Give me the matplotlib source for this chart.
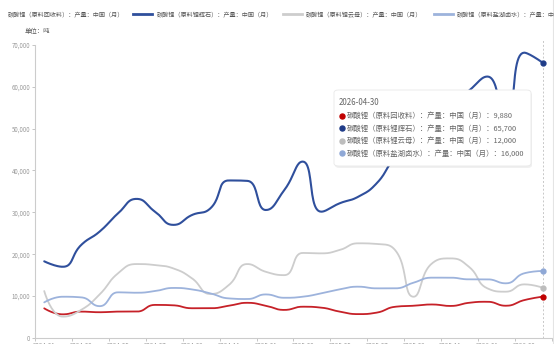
import numpy as np
import matplotlib
matplotlib.use("Agg")
import matplotlib.pyplot as plt
from matplotlib.patches import FancyBboxPatch
from matplotlib.lines import Line2D

plt.rcParams['font.family'] = ['Noto Sans CJK SC', 'DejaVu Sans']

# Monthly dates (month end)
dates = ["2024-01-31", "2024-02-29", "2024-03-31", "2024-04-30", "2024-05-31", "2024-06-30",
         "2024-07-31", "2024-08-31", "2024-09-30", "2024-10-31", "2024-11-30", "2024-12-31",
         "2025-01-31", "2025-02-28", "2025-03-31", "2025-04-30", "2025-05-31", "2025-06-30",
         "2025-07-31", "2025-08-31", "2025-09-30", "2025-10-31", "2025-11-30", "2025-12-31",
         "2026-01-31", "2026-02-28", "2026-03-31", "2026-04-30"]

names = ["碳酸锂（原料回收料）：产量：中国（月）",
         "碳酸锂（原料锂辉石）：产量：中国（月）",
         "碳酸锂（原料锂云母）：产量：中国（月）",
         "碳酸锂（原料盐湖卤水）：产量：中国（月）"]

recycled = [7080, 5650, 6300, 6150, 6300, 6300, 7900, 7800, 7100, 7100, 7700, 8400, 7700, 6700,
            7470, 7250, 6300, 5700, 6050, 7450, 7700, 8000, 7650, 8400, 8650, 7700, 9050, 9880]
spodumene = [18300, 17000, 22200, 25400, 29750, 33200, 30150, 27000, 29350, 30950, 37600, 37500,
             30550, 35300, 42100, 30150, 32150, 33700, 36900, 43000, 46500, 50500, 55000, 59000,
             62400, 52000, 68100, 65700]
lepidolite = [11200, 5100, 6700, 10400, 15450, 17650, 17400, 16600, 14250, 10500, 12650, 17650,
              15800, 15000, 20300, 20200, 21000, 22600, 22450, 21000, 9850, 17800, 19000, 17000,
              11850, 11050, 12800, 12000]
brine = [8500, 9850, 9700, 7600, 10900, 10800, 11200, 11950, 11600, 10650, 9450, 9300, 10400, 9600,
         9850, 10650, 11600, 12250, 11850, 11850, 13200, 14400, 14400, 14000, 14000, 13050, 15450,
         16000]

series = [recycled, spodumene, lepidolite, brine]
colors = ["#c62128", "#2f4f9c", "#cdcdcd", "#9db3dc"]
dot_colors = ["#c00000", "#1f3c88", "#bdbdbd", "#8fa8d6"]
widths = [1.3, 1.5, 1.3, 1.3]

W, H = 554, 344
fig = plt.figure(figsize=(W / 100, H / 100), dpi=100)
ax_left, ax_right, ax_bottom, ax_top = 35, 552, 338, 44.7
ax = fig.add_axes([ax_left / W, 1 - ax_bottom / H, (ax_right - ax_left) / W, (ax_bottom - ax_top) / H])

n = len(dates)
ax.set_xlim(-0.5, n - 0.5)
ax.set_ylim(0, 70000)

# pixel-like aspect used for the smoothing (x index vs y value)
sy = (ax_bottom - ax_top) / 70000 / ((ax_right - ax_left) / n)


def smooth_curve(xs, ys, smooth=0.5, steps=24):
    px = np.asarray(xs, float)
    py = np.asarray(ys, float) * sy
    m = len(px)
    out_x, out_y = [px[0]], [py[0]]
    cpx0, cpy0 = px[0], py[0]
    for k in range(1, m):
        x, y = px[k], py[k]
        prevx, prevy = px[k - 1], py[k - 1]
        if k >= m - 1:
            cpx1, cpy1 = x, y
            ncx, ncy = x, y
        else:
            nx, ny = px[k + 1], py[k + 1]
            vx, vy = nx - prevx, ny - prevy
            lp = np.hypot(x - prevx, y - prevy)
            ln = np.hypot(nx - x, ny - y)
            r = ln / (ln + lp)
            ncx = x + vx * smooth * r
            ncy = y + vy * smooth * r
            ncx = min(max(ncx, min(nx, x)), max(nx, x))
            ncy = min(max(ncy, min(ny, y)), max(ny, y))
            vx, vy = ncx - x, ncy - y
            cpx1 = x - vx * lp / ln
            cpy1 = y - vy * lp / ln
            cpx1 = min(max(cpx1, min(prevx, x)), max(prevx, x))
            cpy1 = min(max(cpy1, min(prevy, y)), max(prevy, y))
            vx, vy = x - cpx1, y - cpy1
            ncx = x + vx * ln / lp
            ncy = y + vy * ln / lp
        t = np.linspace(0, 1, steps)[1:]
        bx = (1 - t) ** 3 * prevx + 3 * (1 - t) ** 2 * t * cpx0 + 3 * (1 - t) * t ** 2 * cpx1 + t ** 3 * x
        by = (1 - t) ** 3 * prevy + 3 * (1 - t) ** 2 * t * cpy0 + 3 * (1 - t) * t ** 2 * cpy1 + t ** 3 * y
        out_x.extend(bx)
        out_y.extend(by)
        cpx0, cpy0 = ncx, ncy
    return np.array(out_x), np.array(out_y) / sy


idx = np.arange(n)
for vals, c, lw in zip(series, colors, widths):
    cx, cy = smooth_curve(idx, vals)
    ax.plot(cx, cy, color=c, lw=lw, solid_capstyle='round', zorder=3)
for vals, c in zip(series, dot_colors):
    ax.plot(idx[-1], vals[-1], 'o', ms=3.5, color=c, zorder=4)

# axis pointer at the latest date
ax.axvline(idx[-1], color="#c8c8c8", lw=0.7, ls=(0, (2, 2)), zorder=2, ymax=1.02, clip_on=False)

# axes styling
for s in ["top", "right"]:
    ax.spines[s].set_visible(False)
for s in ["left", "bottom"]:
    ax.spines[s].set_color("#cccccc")
    ax.spines[s].set_linewidth(0.8)
ax.set_yticks(np.arange(0, 70001, 10000))
ax.set_yticklabels([f"{v:,}" for v in range(0, 70001, 10000)])
ax.tick_params(axis='y', length=2.2, width=0.6, color="#bbbbbb", labelsize=4.4,
               labelcolor="#999999", pad=1)
ax.set_xticks(np.arange(-0.5, n, 2), minor=False)
ax.set_xticklabels([])
ax.set_xticks(np.arange(0, n, 2), minor=True)
ax.set_xticklabels([d[:7] for d in dates[::2]], minor=True)
ax.tick_params(axis='x', which='major', length=2.5, width=0.6, color="#bbbbbb")
ax.tick_params(axis='x', which='minor', length=0, labelsize=4.4, labelcolor="#999999", pad=3.2)

# unit label
fig.text(25 / W, 1 - 31 / H, "单位：吨", fontsize=4.6, color="#555555", va='center', ha='left')

# legend row
leg_y = 1 - 14 / H
legend_items = [(-22, 8), (133, 157), (283, 306), (434, 457)]
for (lx, tx), name, c in zip(legend_items, names, colors):
    fig.add_artist(Line2D([lx / W, (lx + 19) / W], [leg_y, leg_y], color=c, lw=2.0,
                          transform=fig.transFigure))
    fig.text(tx / W, leg_y, name, fontsize=4.4, color="#555555", va='center', ha='left')

# tooltip
tb_x0, tb_y0, tb_x1, tb_y1 = 334, 90, 531, 166
shadow = FancyBboxPatch(((tb_x0 + 1) / W, 1 - (tb_y1 + 2) / H), (tb_x1 - tb_x0) / W,
                        (tb_y1 - tb_y0) / H, boxstyle="round,pad=0,rounding_size=0.008",
                        transform=fig.transFigure, facecolor="#000000", alpha=0.06,
                        edgecolor="none", zorder=9)
fig.add_artist(shadow)
box = FancyBboxPatch((tb_x0 / W, 1 - tb_y1 / H), (tb_x1 - tb_x0) / W, (tb_y1 - tb_y0) / H,
                     boxstyle="round,pad=0,rounding_size=0.008", transform=fig.transFigure,
                     facecolor="white", edgecolor="#e8e8e8", lw=0.6, zorder=10)
fig.add_artist(box)
fig.text(339 / W, 1 - 102 / H, dates[-1], fontsize=5.7, color="#666666", va='center',
         ha='left', zorder=11)
row_y = [115.7, 128.3, 140.7, 153.3]
for ry, name, vals, c in zip(row_y, names, series, dot_colors):
    fig.add_artist(Line2D([341.5 / W], [1 - ry / H], marker='o', ms=3.6, color=c,
                          transform=fig.transFigure, zorder=11))
    fig.text(346.5 / W, 1 - ry / H, f"{name}：{vals[-1]:,}", fontsize=5.3, color="#666666",
             va='center', ha='left', zorder=11)

# right border line
fig.add_artist(Line2D([552.5 / W, 552.5 / W], [0, 1], color="#e4e4e4", lw=0.8,
                      transform=fig.transFigure))

fig.savefig("out.png", dpi=100)
